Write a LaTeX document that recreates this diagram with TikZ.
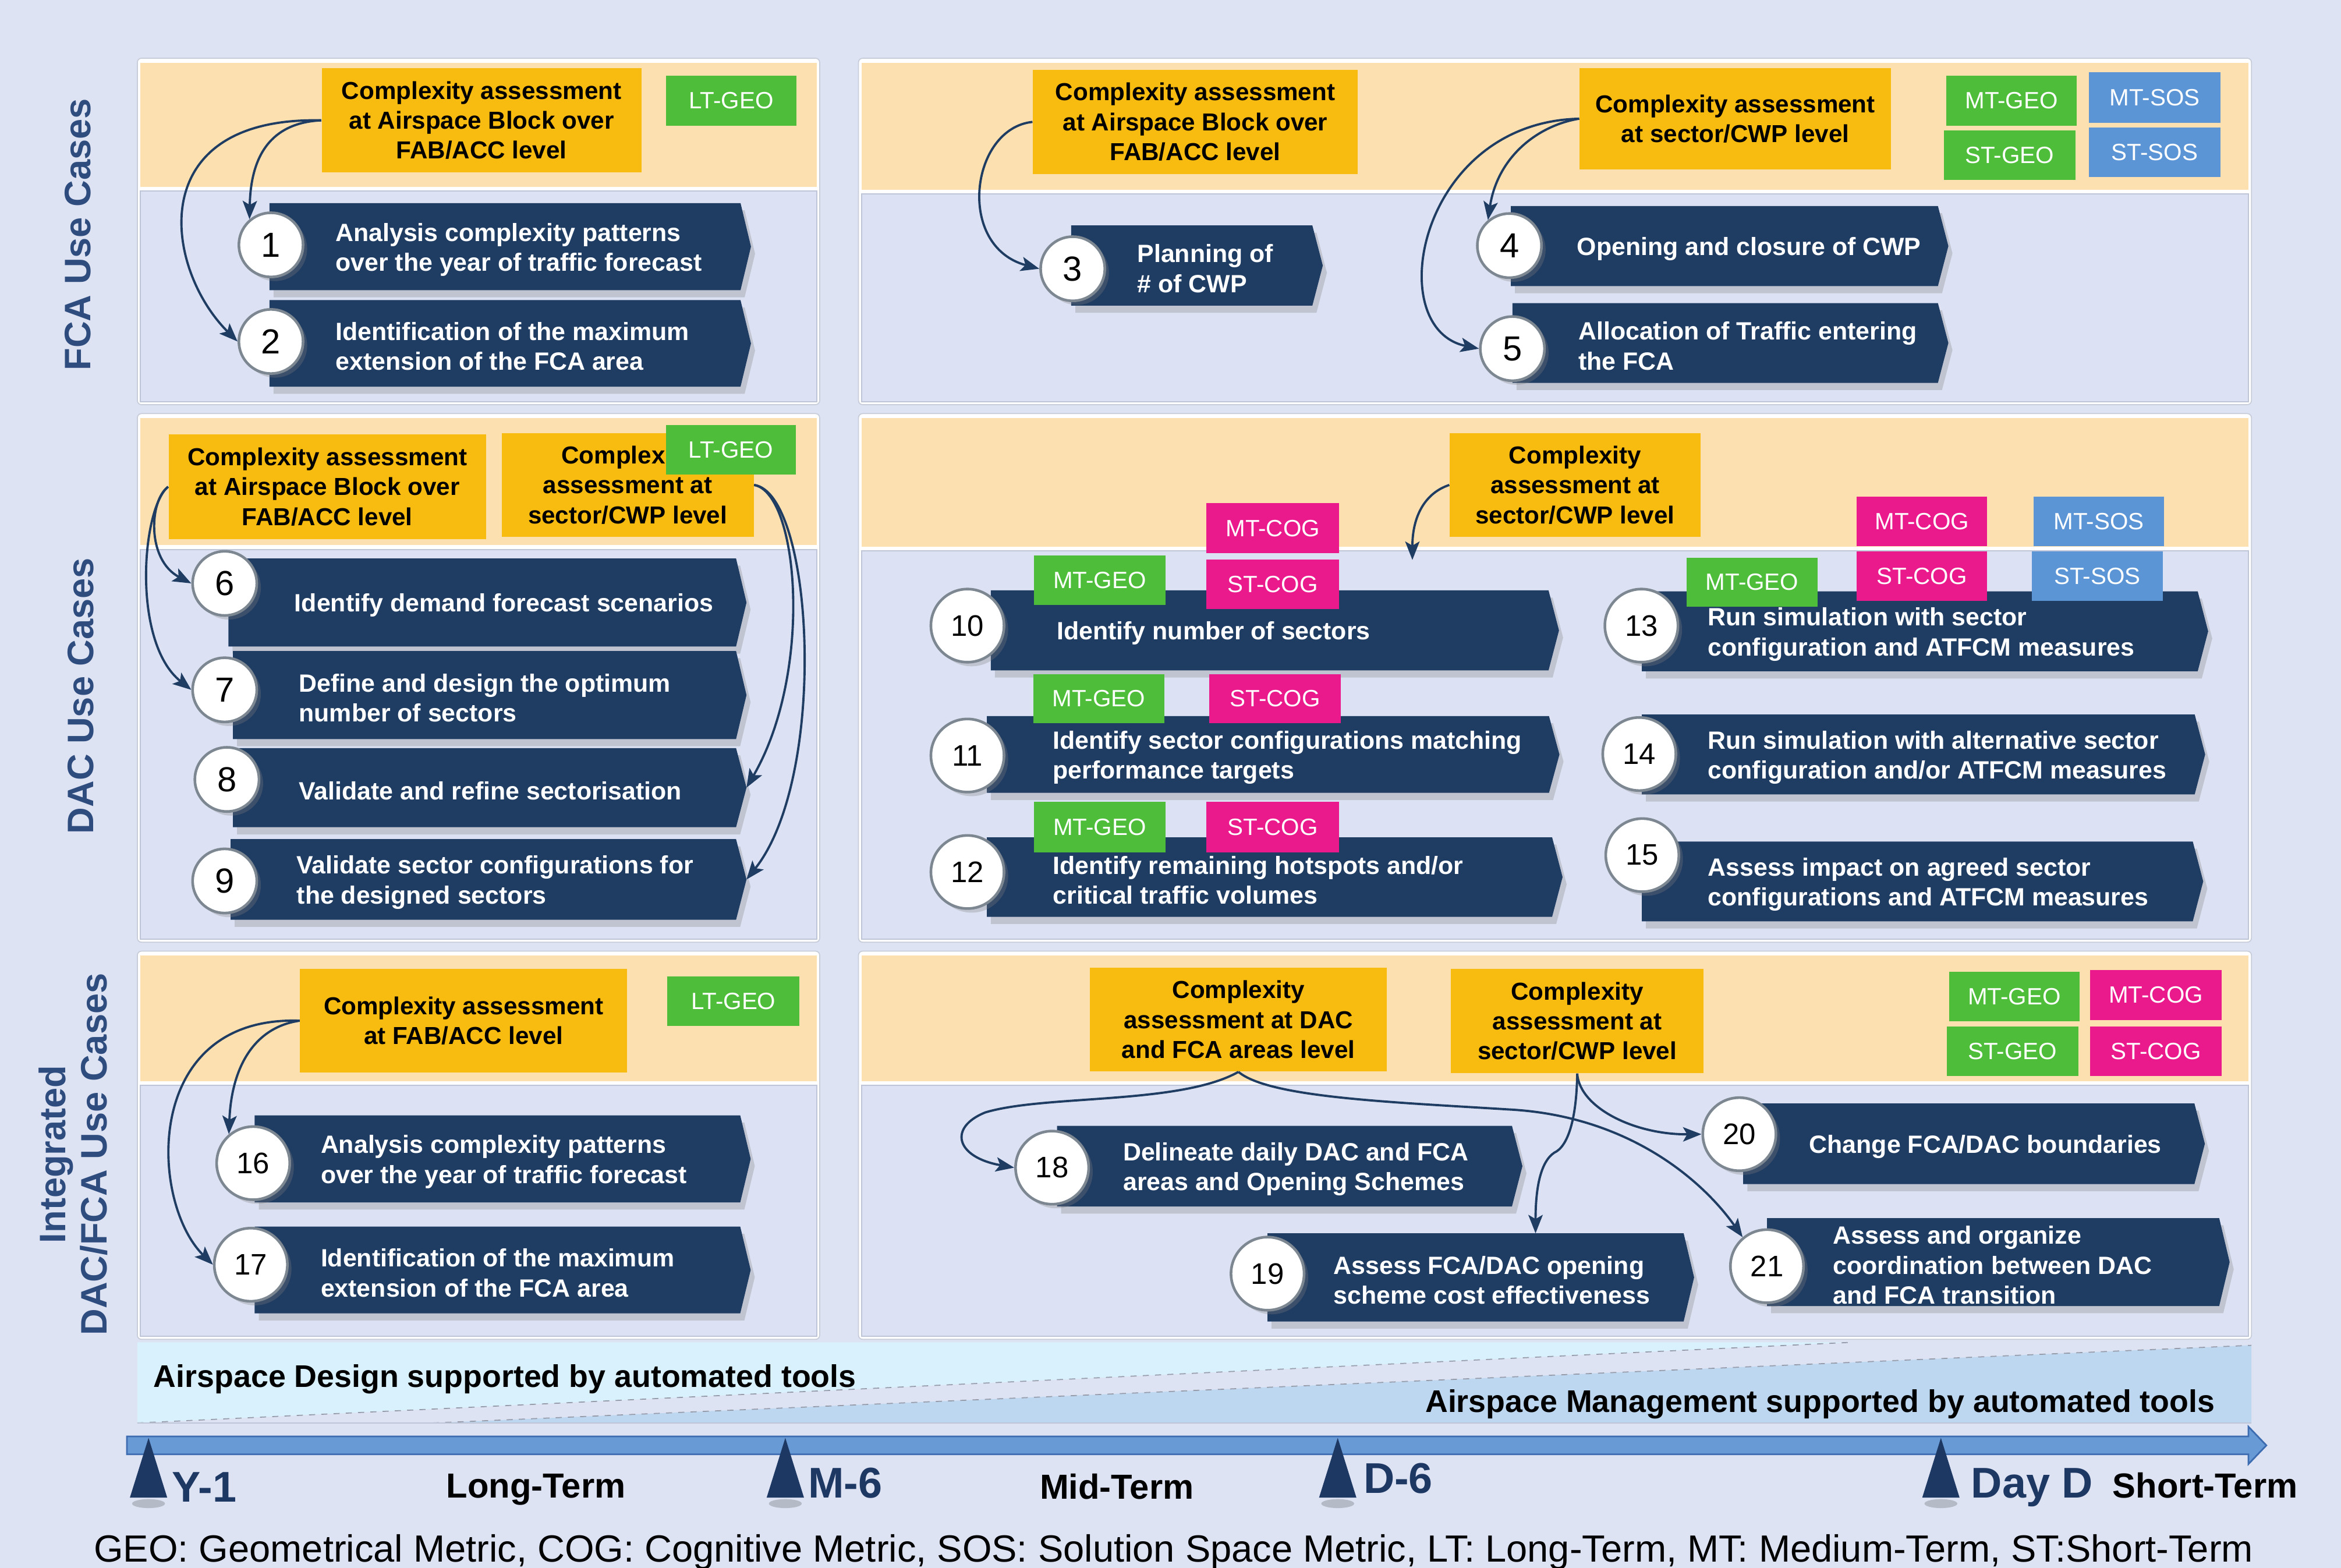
\documentclass[tikz,border=0pt]{standalone}
\usepackage{fontspec}
\setmainfont{Liberation Sans}
\usetikzlibrary{arrows.meta,shadows}
\definecolor{bgc}{RGB}{221,227,243}
\definecolor{peachc}{RGB}{252,224,175}
\definecolor{bodyc}{RGB}{220,226,243}
\definecolor{bodyborder}{RGB}{190,197,214}
\definecolor{panelborder}{RGB}{200,205,218}
\definecolor{orangec}{RGB}{248,187,16}
\definecolor{navyc}{RGB}{31,60,99}
\definecolor{greenc}{RGB}{78,190,58}
\definecolor{pinkc}{RGB}{234,25,140}
\definecolor{sosc}{RGB}{91,149,214}
\definecolor{cyanc}{RGB}{217,241,252}
\definecolor{lbluec}{RGB}{189,215,240}
\definecolor{barc}{RGB}{104,154,214}
\definecolor{baredge}{RGB}{62,108,176}
\definecolor{trinavy}{RGB}{30,56,100}
\definecolor{sidec}{RGB}{46,76,126}
\definecolor{circb}{RGB}{125,135,145}
\definecolor{dashc}{RGB}{150,156,170}

\newcommand\ucbox[6]{%
  \path[boxfill] (#2,#3) -- (#4,#3) -- ({#4+7},{(#3+#5)/2}) -- (#4,#5) -- (#2,#5) -- cycle;
  \node[uctext] (#1) at ({#2+44},{(#3+#5)/2+2}) {#6};
  \coordinate (#1tip) at ({#4+7},{(#3+#5)/2});
}
\newcommand\obox[6]{%
  \node[obst, minimum width={(#4-#2)*0.025644cm}, minimum height={(#5-#3)*0.025644cm}] (#1) at ({(#2+#4)/2},{(#3+#5)/2}) {#6};
}
\newcommand\ctag[7]{%
  \node[tagst, fill=#6, minimum width={(#4-#2)*0.025644cm}, minimum height={(#5-#3)*0.025644cm}] (#1) at ({(#2+#4)/2},{(#3+#5)/2}) {#7};
}
\newcommand\ucpanel[5]{%
  \filldraw[fill=white, draw=panelborder, line width=0.5pt, rounded corners=2pt] (#1,#2) rectangle (#3,#4);
  \fill[peachc] ({#1+2},{#2+3}) rectangle ({#3-2},#5);
  \filldraw[fill=bodyc, draw=bodyborder, line width=0.5pt] ({#1+2},{#5+3}) rectangle ({#3-2},{#4-2});
}

\begin{document}
\begin{tikzpicture}[x=0.025644cm, y=-0.025644cm,
  uctext/.style={anchor=west, inner sep=0pt, align=left, text=white, font=\fontsize{12.2}{14.6}\selectfont\bfseries},
  obst/.style={fill=orangec, inner sep=0pt, align=center, text=black, font=\fontsize{12}{14.6}\selectfont\bfseries},
  tagst/.style={inner sep=0pt, text=white, font=\fontsize{11.5}{13}\selectfont},
  boxfill/.style={fill=navyc, drop shadow={shadow xshift=2pt, shadow yshift=-3.5pt, opacity=0.3}},
  numst/.style={circle, fill=white, draw=circb, line width=1.3pt, inner sep=0pt, text=black,
     drop shadow={shadow xshift=2pt, shadow yshift=-2pt, opacity=0.3}},
  num1/.style={numst, minimum size=1.103cm, font=\fontsize{17}{18}\selectfont},
  num2/.style={numst, minimum size=1.256cm, font=\fontsize{14.5}{16}\selectfont},
  conn/.style={draw=navyc, line width=1.1pt, -{Stealth[length=9pt,width=7pt,inset=2pt]}},
  sidelab/.style={rotate=90, text=sidec, align=center, font=\fontsize{18}{20}\selectfont\bfseries, inner sep=0pt},
  tl/.style={anchor=base west, inner sep=0pt, text=trinavy, font=\fontsize{21}{24}\selectfont\bfseries},
  tt/.style={anchor=base, inner sep=0pt, text=black, font=\fontsize{17}{20}\selectfont\bfseries},
  bandtxt/.style={inner sep=0pt, text=black, font=\fontsize{15.3}{18}\selectfont\bfseries}
]
\useasboundingbox (0,0) rectangle (1568,1050);
\fill[bgc] (0,0) rectangle (1568,1050);

% side labels
\node[sidelab] (labfca) at (52,157) {FCA Use Cases};
\node[sidelab] (labdac) at (54,466) {DAC Use Cases};
\node[sidelab] (labint) at (49,773) {Integrated\\DAC/FCA Use Cases};

% panels
\ucpanel{92}{39}{549}{271}{125}
\ucpanel{575}{39}{1508}{271}{127}
\ucpanel{92}{277}{549}{631}{365}
\ucpanel{575}{277}{1508}{631}{366}
\ucpanel{92}{637}{549}{897}{724}
\ucpanel{575}{637}{1508}{897}{724}

% bottom band
\fill[cyanc] (92,899) -- (1240,899) -- (92,953) -- cycle;
\fill[lbluec] (290,953) -- (1508,901) -- (1508,953) -- cycle;
\draw[dashc, dashed, line width=0.5pt] (92,953) -- (1240,899);
\draw[dashc, dashed, line width=0.5pt] (290,953) -- (1508,901);
\draw[bodyborder, line width=0.4pt] (92,953) -- (1508,953);
\node[bandtxt, anchor=base west] (adtxt) at (102.6,929) {Airspace Design supported by automated tools};
\node[bandtxt, anchor=base east] (amtxt) at (1483.8,946) {Airspace Management supported by automated tools};

% timeline bar
\filldraw[fill=barc, draw=baredge, line width=0.8pt] (85,962) -- (1506,962) -- (1506,955.5) -- (1518,968) -- (1506,980.5) -- (1506,974) -- (85,974) -- cycle;
\foreach \tx in {99.5,526,896,1300}{
  \fill[black, opacity=0.18] (\tx,1007) ellipse (11 and 3);
  \fill[trinavy] ({\tx-12.5},1003) -- (\tx,963) -- ({\tx+12.5},1003) -- cycle;
}
\node[tl] (ly1) at (115,1006) {Y-1};
\node[tl] (lm6) at (541,1003) {M-6};
\node[tl] (ld6) at (913,1000) {D-6};
\node[tl] (ldd) at (1320,1003) {Day D};
\node[tt] (llt) at (359,1003) {Long-Term};
\node[tt] (lmt) at (748,1004) {Mid-Term};
\node[tt] (lst) at (1477,1003) {Short-Term};
\node[anchor=base, inner sep=0pt, font=\fontsize{18.5}{21}\selectfont] (legend) at (786,1046) {GEO: Geometrical Metric, COG: Cognitive Metric, SOS: Solution Space Metric, LT: Long-Term, MT: Medium-Term, ST:Short-Term};

% orange boxes
\obox{A1}{215.5}{45.7}{429.6}{115.5}{Complexity assessment\\at Airspace Block over\\FAB/ACC level}
\obox{A2}{691.8}{46.9}{909.4}{116.4}{Complexity assessment\\at Airspace Block over\\FAB/ACC level}
\obox{B2}{1058}{45.7}{1266.6}{113.3}{Complexity assessment\\at sector/CWP level}
\obox{C}{112.9}{291}{325.6}{361}{Complexity assessment\\at Airspace Block over\\FAB/ACC level}
\obox{D}{336}{290}{504.8}{359.6}{Complexity\\assessment at\\sector/CWP level}
\obox{E}{971}{290}{1139}{359.6}{Complexity\\assessment at\\sector/CWP level}
\obox{F}{201}{648.8}{420}{718.4}{Complexity assessment\\at FAB/ACC level}
\obox{G}{730}{648}{929}{717.6}{Complexity\\assessment at DAC\\and FCA areas level}
\obox{H}{971.8}{649}{1141}{718.7}{Complexity\\assessment at\\sector/CWP level}

% use case boxes
\ucbox{b1}{180.5}{136}{496}{194.3}{Analysis complexity patterns\\over the year of traffic forecast}
\ucbox{b2}{180.5}{201}{496}{259}{Identification of the maximum\\extension of the FCA area}
\ucbox{b3}{717.5}{151}{879}{204.7}{Planning of\\\# of CWP}
\ucbox{b4}{1012}{138}{1298}{191.6}{Opening and closure of CWP}
\ucbox{b5}{1013}{203}{1298}{256.4}{Allocation of Traffic entering\\the FCA}
\ucbox{b6}{153}{374}{493}{433}{Identify demand forecast scenarios}
\ucbox{b7}{156}{436}{493}{495}{Define and design the optimum\\number of sectors}
\ucbox{b8}{156}{501}{493}{554}{Validate and refine sectorisation}
\ucbox{b9}{154.5}{562}{493}{616}{Validate sector configurations for\\the designed sectors}
\ucbox{b10}{663.6}{395.4}{1037.2}{449}{Identify number of sectors}
\ucbox{b11}{661}{479.6}{1037.5}{531}{Identify sector configurations matching\\performance targets}
\ucbox{b12}{661}{560.8}{1039.6}{614}{Identify remaining hotspots and/or\\critical traffic volumes}
\ucbox{b13}{1099.7}{396}{1472}{449.6}{Run simulation with sector\\configuration and ATFCM measures}
\ucbox{b14}{1099.7}{478.5}{1470}{532}{Run simulation with alternative sector\\configuration and/or ATFCM measures}
\ucbox{b15}{1099.7}{563.6}{1468.7}{617}{Assess impact on agreed sector\\configurations and ATFCM measures}
\ucbox{b16}{170.6}{747}{495.8}{805.3}{Analysis complexity patterns\\over the year of traffic forecast}
\ucbox{b17}{170.6}{821.5}{495.8}{879.6}{Identification of the maximum\\extension of the FCA area}
\ucbox{b18}{708}{754}{1012.7}{808}{Delineate daily DAC and FCA\\areas and Opening Schemes}
\ucbox{b19}{849}{826}{1127.7}{885}{Assess FCA/DAC opening\\scheme cost effectiveness}
\ucbox{b20}{1167.6}{739}{1469.8}{793}{Change FCA/DAC boundaries}
\ucbox{b21}{1183.5}{815.8}{1486.4}{874.7}{Assess and organize\\coordination between DAC\\and FCA transition}

% tags
\ctag{t1}{446}{50.7}{533.6}{84.1}{greenc}{LT-GEO}
\ctag{t2}{1303.6}{50.7}{1391}{84.1}{greenc}{MT-GEO}
\ctag{t3}{1399}{48.3}{1487.4}{82.4}{sosc}{MT-SOS}
\ctag{t4}{1302}{87.2}{1390}{120.5}{greenc}{ST-GEO}
\ctag{t5}{1399}{85.4}{1487.4}{118.5}{sosc}{ST-SOS}
\ctag{t6}{446}{284.8}{533}{317.8}{greenc}{LT-GEO}
\ctag{t7}{808}{337}{897}{370.5}{pinkc}{MT-COG}
\ctag{t8}{692.5}{372}{780.6}{405}{greenc}{MT-GEO}
\ctag{t9}{808}{374.6}{897}{408}{pinkc}{ST-COG}
\ctag{t10}{692}{451.4}{780}{484.5}{greenc}{MT-GEO}
\ctag{t11}{810}{451.4}{898}{484.5}{pinkc}{ST-COG}
\ctag{t12}{692.5}{537}{780.6}{570.7}{greenc}{MT-GEO}
\ctag{t13}{808}{537}{897}{570.7}{pinkc}{ST-COG}
\ctag{t14}{1129.7}{373.4}{1217.5}{406.5}{greenc}{MT-GEO}
\ctag{t15}{1243.6}{332.7}{1331}{365.8}{pinkc}{MT-COG}
\ctag{t16}{1243.6}{369.4}{1331}{402.5}{pinkc}{ST-COG}
\ctag{t17}{1362}{332.7}{1449.6}{365.8}{sosc}{MT-SOS}
\ctag{t18}{1361}{369.4}{1448.5}{402.5}{sosc}{ST-SOS}
\ctag{t19}{447}{653.8}{535.5}{687}{greenc}{LT-GEO}
\ctag{t20}{1305.4}{650.8}{1393}{684}{greenc}{MT-GEO}
\ctag{t21}{1400}{649.7}{1488}{683}{pinkc}{MT-COG}
\ctag{t22}{1304}{687.5}{1392}{720.8}{greenc}{ST-GEO}
\ctag{t23}{1400}{687.5}{1488}{720.8}{pinkc}{ST-COG}

% number circles
\node[num1] (c1) at (181.5,164) {1};
\node[num1] (c2) at (181.5,228.7) {2};
\node[num1] (c3) at (718.5,180) {3};
\node[num1] (c4) at (1011,164.5) {4};
\node[num1] (c5) at (1013,233.5) {5};
\node[num1] (c6) at (150.5,390.7) {6};
\node[num1] (c7) at (150.5,462) {7};
\node[num1] (c8) at (152,522) {8};
\node[num1] (c9) at (150.5,590) {9};
\node[num2] (c10) at (648,419) {10};
\node[num2] (c11) at (648,506) {11};
\node[num2] (c12) at (648,584) {12};
\node[num2] (c13) at (1099.4,419) {13};
\node[num2] (c14) at (1098,505) {14};
\node[num2] (c15) at (1100,572.7) {15};
\node[num2] (c16) at (169.6,779) {16};
\node[num2] (c17) at (168,847) {17};
\node[num2] (c18) at (704.7,782) {18};
\node[num2] (c19) at (849,853) {19};
\node[num2] (c20) at (1165,759.6) {20};
\node[num2] (c21) at (1183.5,848) {21};

% free ends
\coordinate (Efree) at (946,375);
\coordinate (in19) at (1028.5,826);

% connectors
\draw[conn] (A1.west) .. controls (185,82) and (168,100) .. (c1.130);
\draw[conn] (A1.west) .. controls (95,78) and (110,180) .. (c2.west);
\draw[conn] (A2.west) .. controls (650,86) and (640,165) .. (c3.west);
\draw[conn] (B2.west) .. controls (1030,84) and (1003,105) .. (c4.130);
\draw[conn] (B2.west) .. controls (950,82) and (925,220) .. (c5.west);
\draw[conn] (C.west) .. controls (100,335) and (98,375) .. (c6.west);
\draw[conn] (C.west) .. controls (95,340) and (88,430) .. (c7.west);
\draw[conn] (D.east) .. controls (535,330) and (545,450) .. (b8tip);
\draw[conn] (D.east) .. controls (545,330) and (555,520) .. (b9tip);
\draw[conn] (E.west) .. controls (955,330) and (946,345) .. (Efree);
\draw[conn] (F.west) .. controls (170,688) and (155,715) .. (c16.130);
\draw[conn] (F.west) .. controls (95,680) and (100,805) .. (c17.west);
\draw[conn] (G.south) .. controls (790,740) and (700,733) .. (660,745) .. controls (635,755) and (640,775) .. (c18.west);
\draw[conn] (G.south) .. controls (850,735) and (930,738) .. (1010,743) .. controls (1090,747) and (1140,790) .. (c21.130);
\draw[conn] (H.south) .. controls (1058,742) and (1095,760) .. (c20.west);
\draw[conn] (H.south) .. controls (1056,750) and (1050,768) .. (1041,772) .. controls (1032,778) and (1028.5,795) .. (in19);
\end{tikzpicture}
\end{document}
